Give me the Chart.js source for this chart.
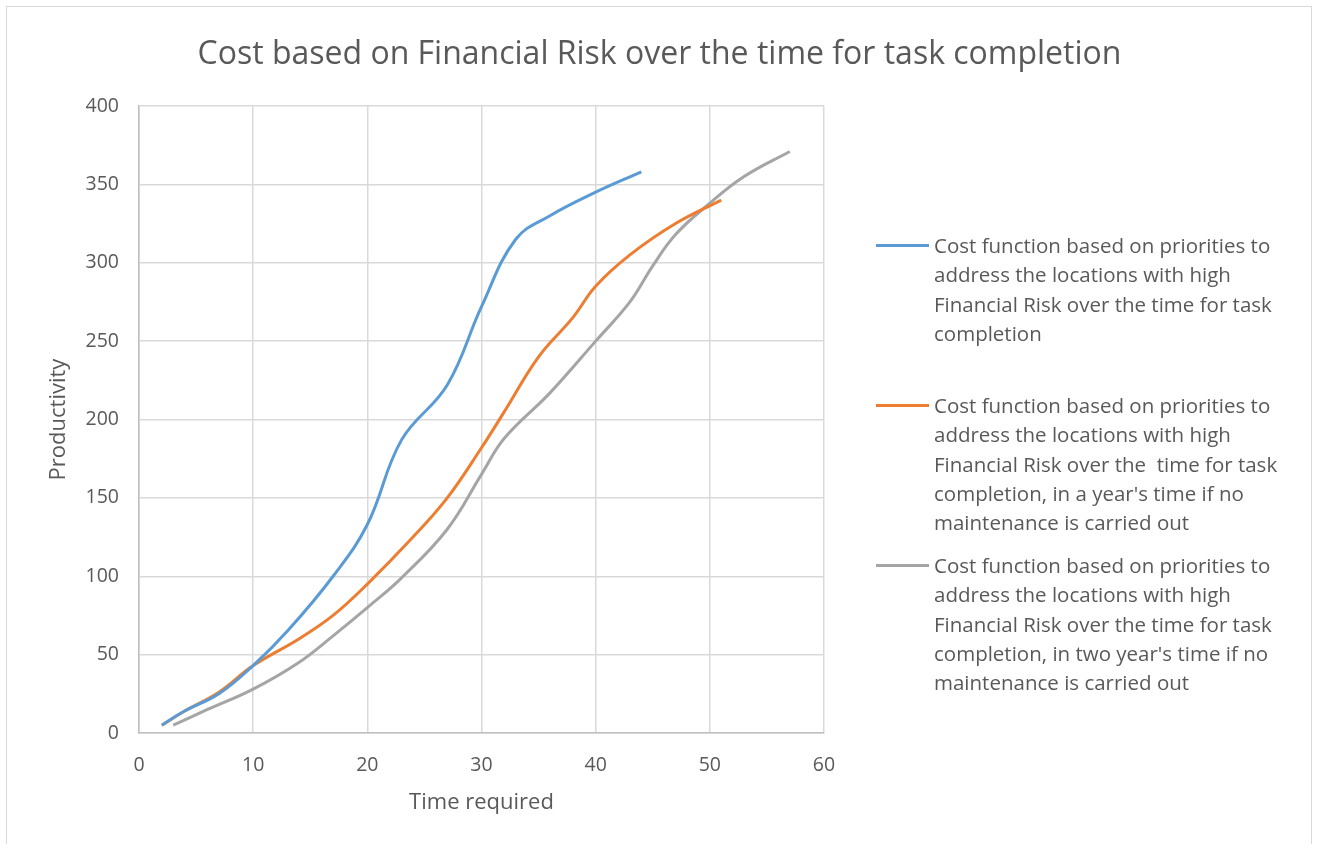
<!DOCTYPE html>
<html>
<head>
<meta charset="utf-8">
<script src="https://cdn.jsdelivr.net/npm/chart.js@4.4.0/dist/chart.umd.min.js"></script>
<style>
  html, body { margin: 0; padding: 0; background: #fff; overflow: hidden; }
  #wrap { position: relative; width: 1319px; height: 844px; font-family: "Open Sans", sans-serif; color: #595959; }
  #frame { position: absolute; left: 6px; top: 6px; width: 1306px; height: 900px; border: 1.5px solid #d9d9d9; box-sizing: border-box; }
  #title { position: absolute; left: 0; width: 1319px; top: 31px; text-align: center; font-size: 32px; line-height: 42px; white-space: nowrap; }
  canvas { position: absolute; left: 0; top: 0; }
  .item { position: absolute; left: 876px; }
  .item .swatch { position: absolute; left: 0; top: 13px; width: 53px; height: 3px; }
  .item .text { position: absolute; left: 58px; top: 0; font-size: 20.5px; line-height: 29.3px; white-space: pre; }
</style>
</head>
<body>
<div id="wrap">
  <div id="frame"></div>
  <canvas id="costChart" width="1319" height="844"></canvas>
  <div id="title">Cost based on Financial Risk over the time for task completion</div>
  <div id="legend"></div>
</div>
<script>
// Time required (x) and productivity (y) for each scenario
const nowTime = [2, 4, 7, 10, 13, 17, 20, 23, 27, 30, 33, 36, 40, 44];
const nowCost = [5, 14, 25, 43, 65, 100, 133, 187, 222, 272, 315, 330, 345, 358];

const oneYearTime = [2, 4, 7, 10, 14, 17, 20, 24, 27, 30, 32, 35, 38, 40, 43, 47, 51];
const oneYearCost = [5, 14, 26, 43, 60, 75, 95, 125, 150, 182, 205, 240, 265, 285, 305, 325, 340];

const twoYearTime = [3, 6, 10, 14, 17, 20, 23, 27, 30, 32, 36, 40, 43, 45, 47, 50, 53, 57];
const twoYearCost = [5, 15, 28, 45, 62, 80, 99, 130, 165, 188, 217, 250, 275, 298, 318, 338, 355, 371];

const seriesLabels = [
    'Cost function based on priorities to\naddress the locations with high\nFinancial Risk over the time for task\ncompletion',
    'Cost function based on priorities to\naddress the locations with high\nFinancial Risk over the  time for task\ncompletion, in a year\'s time if no\nmaintenance is carried out',
    'Cost function based on priorities to\naddress the locations with high\nFinancial Risk over the time for task\ncompletion, in two year\'s time if no\nmaintenance is carried out'
];
const seriesColors = ['#5b9bd5', '#ed7d31', '#a5a5a5'];
const legendTops = [231, 391, 551];

function toPoints(xs, ys) {
    return xs.map(function(x, i) { return { x: x, y: ys[i] }; });
}

const seriesData = [
    toPoints(nowTime, nowCost),
    toPoints(oneYearTime, oneYearCost),
    toPoints(twoYearTime, twoYearCost)
];

const tickFont = { family: '"Open Sans", sans-serif', size: 19.5 };
const axisTitleFont = { family: '"Open Sans", sans-serif', size: 22 };

new Chart(document.getElementById('costChart'), {
    type: 'scatter',
    data: {
        datasets: seriesData.map(function(pts, i) {
            return {
                label: seriesLabels[i],
                data: pts,
                showLine: true,
                borderColor: seriesColors[i],
                backgroundColor: seriesColors[i],
                borderWidth: 3,
                pointRadius: 0,
                tension: 0.4
            };
        })
    },
    options: {
        responsive: false,
        animation: false,
        layout: { padding: { top: 106, right: 495, left: 0, bottom: 0 } },
        plugins: {
            legend: { display: false },
            tooltip: { enabled: false }
        },
        scales: {
            x: {
                type: 'linear',
                min: 0,
                max: 60,
                afterFit: function(scale) { scale.height = 111; },
                ticks: { stepSize: 10, padding: 21, color: '#595959', font: tickFont },
                grid: { color: '#d9d9d9', lineWidth: 1.5, drawTicks: false },
                border: { color: '#bfbfbf', width: 1.5 },
                title: {
                    display: true,
                    text: 'Time required',
                    color: '#595959',
                    font: axisTitleFont,
                    padding: { top: 0, bottom: 28 }
                }
            },
            y: {
                min: 0,
                max: 400,
                afterFit: function(scale) { scale.width = 139; },
                ticks: { stepSize: 50, padding: 20, color: '#595959', font: tickFont },
                grid: { color: '#d9d9d9', lineWidth: 1.5, drawTicks: false },
                border: { color: '#bfbfbf', width: 1.5 },
                title: {
                    display: true,
                    text: 'Productivity',
                    color: '#595959',
                    font: axisTitleFont,
                    padding: { top: 46, bottom: 0 }
                }
            }
        }
    }
});

// Legend drawn as HTML so the long labels wrap like the original
const legendBox = document.getElementById('legend');
seriesLabels.forEach(function(label, i) {
    const item = document.createElement('div');
    item.className = 'item';
    item.style.top = legendTops[i] + 'px';
    const sw = document.createElement('div');
    sw.className = 'swatch';
    sw.style.background = seriesColors[i];
    const txt = document.createElement('div');
    txt.className = 'text';
    txt.textContent = label;
    item.appendChild(sw);
    item.appendChild(txt);
    legendBox.appendChild(item);
});
</script>
</body>
</html>
